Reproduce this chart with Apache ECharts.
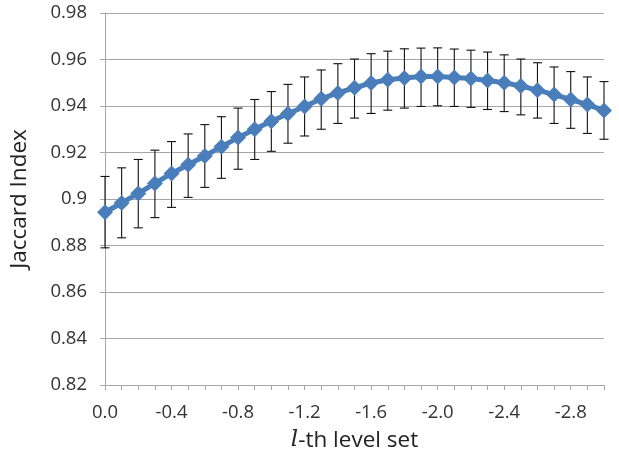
<!DOCTYPE html>
<html>
<head>
<meta charset="utf-8">
<script src="https://cdn.jsdelivr.net/npm/echarts@6/dist/echarts.min.js"></script>
<style>html,body{margin:0;padding:0;background:#fff}#c{width:619px;height:457px}</style>
</head>
<body>
<div id="c"></div>
<script>
var categories = ['0.0','-0.1','-0.2','-0.3','-0.4','-0.5','-0.6','-0.7','-0.8','-0.9','-1.0','-1.1','-1.2','-1.3','-1.4','-1.5','-1.6','-1.7','-1.8','-1.9','-2.0','-2.1','-2.2','-2.3','-2.4','-2.5','-2.6','-2.7','-2.8','-2.9','-3.0'];
var xTickLabels = ['0.0','-0.4','-0.8','-1.2','-1.6','-2.0','-2.4','-2.8'];
var meanValues = [0.8943,0.8983,0.9024,0.9067,0.9110,0.9147,0.9185,0.9225,0.9264,0.9300,0.9334,0.9367,0.9398,0.9431,0.9456,0.9478,0.9499,0.9513,0.9520,0.9527,0.9527,0.9523,0.9518,0.9510,0.9500,0.9486,0.9468,0.9449,0.9428,0.9406,0.9381];
var upperValues = [0.9097,0.9134,0.9170,0.9210,0.9247,0.9280,0.9320,0.9354,0.9391,0.9428,0.9462,0.9493,0.9525,0.9555,0.9582,0.9602,0.9625,0.9636,0.9646,0.9649,0.9650,0.9645,0.9640,0.9632,0.9620,0.9602,0.9586,0.9568,0.9548,0.9525,0.9505];
var lowerValues = [0.8790,0.8833,0.8876,0.8920,0.8964,0.9007,0.9050,0.9089,0.9128,0.9170,0.9205,0.9240,0.9271,0.9300,0.9325,0.9348,0.9368,0.9382,0.9391,0.9398,0.9401,0.9398,0.9394,0.9385,0.9376,0.9362,0.9348,0.9325,0.9304,0.9282,0.9257];
var yTicks = {min: 0.82, max: 0.98, interval: 0.02};

var errData = categories.map(function (c, i) { return [i, upperValues[i], lowerValues[i]]; });

var chart = echarts.init(document.getElementById('c'), null, {renderer: 'canvas'});
var font = '"Open Sans", sans-serif';
chart.setOption({
  animation: false,
  grid: {left: 99, right: 15, top: 13, bottom: 70, containLabel: false},
  xAxis: {
    type: 'category',
    data: categories,
    boundaryGap: false,
    name: '{i|l}-th level set',
    nameLocation: 'middle',
    nameGap: 44,
    nameTextStyle: {
      color: '#222', fontSize: 22.5, fontFamily: font,
      rich: {i: {fontStyle: 'italic', fontFamily: '"DejaVu Serif", serif', fontSize: 23, color: '#222'}}
    },
    axisLine: {show: true, lineStyle: {color: '#a6a6a6', width: 1}},
    axisTick: {show: true, interval: 0, length: 5, alignWithLabel: true, lineStyle: {color: '#a6a6a6'}},
    axisLabel: {
      interval: 0, margin: 18, color: '#333', fontSize: 18.5, fontFamily: font,
      formatter: function (v) { return xTickLabels.indexOf(v) >= 0 ? v : ''; }
    },
    splitLine: {show: false}
  },
  yAxis: {
    type: 'value',
    min: yTicks.min, max: yTicks.max, interval: yTicks.interval,
    name: 'Jaccard Index',
    nameLocation: 'middle',
    nameGap: 74,
    nameRotate: 90,
    nameTextStyle: {color: '#222', fontSize: 22.5, fontFamily: font},
    axisLine: {show: true, lineStyle: {color: '#a6a6a6', width: 1}},
    axisTick: {show: true, length: 5, lineStyle: {color: '#a6a6a6'}},
    axisLabel: {margin: 18, color: '#333', fontSize: 18.5, fontFamily: font},
    splitLine: {show: true, lineStyle: {color: '#a6a6a6', width: 1}}
  },
  series: [
    {
      type: 'custom',
      z: 1,
      data: errData,
      renderItem: function (params, api) {
        var top = api.coord([api.value(0), api.value(1)]);
        var bot = api.coord([api.value(0), api.value(2)]);
        var hw = 4.5;
        var st = {stroke: '#111', lineWidth: 1.1};
        return {
          type: 'group',
          children: [
            {type: 'line', shape: {x1: top[0], y1: top[1], x2: bot[0], y2: bot[1]}, style: st},
            {type: 'line', shape: {x1: top[0] - hw, y1: top[1], x2: top[0] + hw, y2: top[1]}, style: st},
            {type: 'line', shape: {x1: bot[0] - hw, y1: bot[1], x2: bot[0] + hw, y2: bot[1]}, style: st}
          ]
        };
      }
    },
    {
      type: 'line',
      z: 3,
      data: meanValues,
      symbol: 'diamond',
      symbolSize: 16,
      showAllSymbol: true,
      lineStyle: {color: '#4a7ebb', width: 5},
      itemStyle: {color: '#4a7ebb', opacity: 1}
    }
  ]
});
</script>
</body>
</html>
